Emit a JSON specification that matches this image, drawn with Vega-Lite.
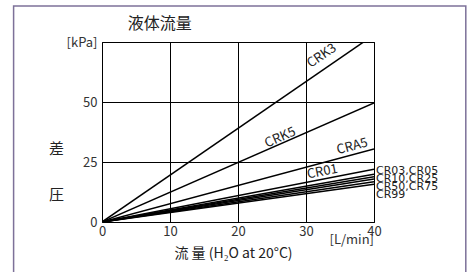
{
  "$schema": "https://vega.github.io/schema/vega-lite/v6.json",
  "width": 272,
  "height": 180,
  "autosize": {"type": "none"},
  "padding": {"left": 102, "top": 42, "right": 98, "bottom": 50},
  "background": "white",
  "config": {"view": {"stroke": "black", "strokeWidth": 1}, "font": "Noto Sans CJK JP"},
  "datasets": {
    "lines": [
      {"series": "CRK3", "flow": 0, "dp": 0}, {"series": "CRK3", "flow": 40, "dp": 78},
      {"series": "CRK5", "flow": 0, "dp": 0}, {"series": "CRK5", "flow": 40, "dp": 49.6},
      {"series": "CRA5", "flow": 0, "dp": 0}, {"series": "CRA5", "flow": 40, "dp": 30.4},
      {"series": "CR01", "flow": 0, "dp": 0}, {"series": "CR01", "flow": 40, "dp": 22},
      {"series": "CR03,CR05", "flow": 0, "dp": 0}, {"series": "CR03,CR05", "flow": 40, "dp": 19.9},
      {"series": "CR10,CR25", "flow": 0, "dp": 0}, {"series": "CR10,CR25", "flow": 40, "dp": 18.9},
      {"series": "CR50", "flow": 0, "dp": 0}, {"series": "CR50", "flow": 40, "dp": 17.9},
      {"series": "CR75", "flow": 0, "dp": 0}, {"series": "CR75", "flow": 40, "dp": 16.8},
      {"series": "CR99", "flow": 0, "dp": 0}, {"series": "CR99", "flow": 40, "dp": 15.7}
    ],
    "labels": [
      {"name": "CRK3", "flow": 32.3, "dp": 69.3},
      {"name": "CRK5", "flow": 26.2, "dp": 35.2},
      {"name": "CRA5", "flow": 36.8, "dp": 31.5},
      {"name": "CR01", "flow": 32.4, "dp": 21.0}
    ],
    "side": [
      {"name": "CR03,CR05", "flow": 40, "dp": 21.1},
      {"name": "CR10,CR25", "flow": 40, "dp": 18.0},
      {"name": "CR50,CR75", "flow": 40, "dp": 14.6},
      {"name": "CR99", "flow": 40, "dp": 11.3}
    ]
  },
  "layer": [
    {
      "data": {"name": "lines"},
      "mark": {"type": "line", "color": "black", "strokeWidth": 1.5, "clip": true},
      "encoding": {
        "x": {"field": "flow", "type": "quantitative", "scale": {"domain": [0, 40], "nice": false},
          "axis": {"values": [0, 10, 20, 30, 40], "grid": true, "gridColor": "black", "gridOpacity": 1, "gridWidth": 1, "domain": false, "ticks": false, "labelFontSize": 13, "labelColor": "#333", "labelPadding": 3, "labelFlush": false,
            "title": "流 量 (H₂O at 20°C)", "titleFontSize": 14, "titleFontWeight": "normal", "titleColor": "#222", "titleX": 131, "titleY": 31, "titleBaseline": "middle", "titleAnchor": "middle", "titleAlign": "center"}},
        "y": {"field": "dp", "type": "quantitative", "scale": {"domain": [0, 75], "nice": false},
          "axis": {"values": [0, 25, 50, 75], "grid": true, "gridColor": "black", "gridOpacity": 1, "gridWidth": 1, "domain": false, "ticks": false, "labelFontSize": 13, "labelColor": "#333", "labelPadding": 5, "labelFlush": false,
            "labelExpr": "datum.value == 75 ? '[kPa]' : datum.label",
            "title": ["差", "", "圧"], "titleFontSize": 15, "titleFontWeight": "normal", "titleColor": "#222", "titleAngle": 0, "titleX": -46, "titleY": 106, "titleLineHeight": 46, "titleBaseline": "middle", "titleAlign": "center"}},
        "detail": {"field": "series"}
      }
    },
    {
      "data": {"name": "labels"},
      "transform": [{"filter": "datum.name == 'CRK3'"}],
      "mark": {"type": "text", "angle": 325.5, "fontSize": 13, "color": "#222", "baseline": "middle", "align": "center"},
      "encoding": {"x": {"field": "flow", "type": "quantitative"}, "y": {"field": "dp", "type": "quantitative"}, "text": {"field": "name"}}
    },
    {
      "data": {"name": "labels"},
      "transform": [{"filter": "datum.name == 'CRK5'"}],
      "mark": {"type": "text", "angle": 336.2, "fontSize": 13, "color": "#222", "baseline": "middle", "align": "center"},
      "encoding": {"x": {"field": "flow", "type": "quantitative"}, "y": {"field": "dp", "type": "quantitative"}, "text": {"field": "name"}}
    },
    {
      "data": {"name": "labels"},
      "transform": [{"filter": "datum.name == 'CRA5'"}],
      "mark": {"type": "text", "angle": 345, "fontSize": 13, "color": "#222", "baseline": "middle", "align": "center"},
      "encoding": {"x": {"field": "flow", "type": "quantitative"}, "y": {"field": "dp", "type": "quantitative"}, "text": {"field": "name"}}
    },
    {
      "data": {"name": "labels"},
      "transform": [{"filter": "datum.name == 'CR01'"}],
      "mark": {"type": "text", "angle": 349, "fontSize": 13, "color": "#222", "baseline": "middle", "align": "center"},
      "encoding": {"x": {"field": "flow", "type": "quantitative"}, "y": {"field": "dp", "type": "quantitative"}, "text": {"field": "name"}}
    },
    {
      "data": {"name": "side"},
      "mark": {"type": "text", "font": "DejaVu Sans", "fontSize": 11, "color": "#222", "baseline": "middle", "align": "left", "dx": 2},
      "encoding": {"x": {"field": "flow", "type": "quantitative"}, "y": {"field": "dp", "type": "quantitative"}, "text": {"field": "name"}}
    },
    {
      "data": {"values": [{}]},
      "mark": {"type": "text", "text": "[L/min]", "fontSize": 13, "color": "#333", "align": "right", "baseline": "middle"},
      "encoding": {"x": {"datum": 40, "type": "quantitative"}, "y": {"datum": -7.5, "type": "quantitative"}}
    },
    {
      "data": {"values": [{}]},
      "mark": {"type": "text", "text": "液体流量", "fontSize": 16, "color": "#222", "align": "center", "baseline": "middle"},
      "encoding": {"x": {"datum": 8.5, "type": "quantitative"}, "y": {"datum": 82.3, "type": "quantitative"}}
    },
    {
      "data": {"values": [{}]},
      "mark": {"type": "rect", "fill": null, "fillOpacity": 0, "stroke": "#7d7199", "strokeWidth": 1.5},
      "encoding": {
        "x": {"datum": -13, "type": "quantitative"}, "x2": {"datum": 53.5},
        "y": {"datum": 90, "type": "quantitative"}, "y2": {"datum": -30}
      }
    }
  ]
}
